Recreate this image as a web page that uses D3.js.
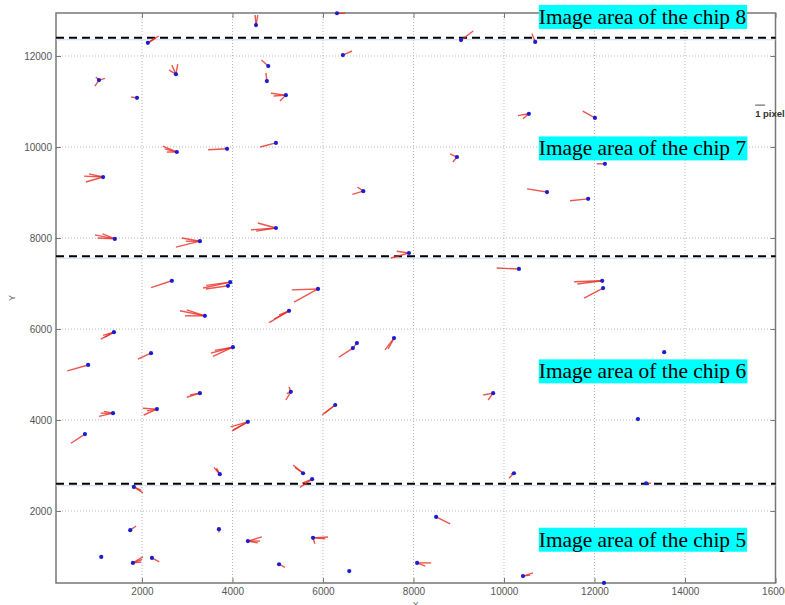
<!DOCTYPE html>
<html>
<head>
<meta charset="utf-8">
<script src="https://cdnjs.cloudflare.com/ajax/libs/d3/7.8.5/d3.min.js"></script>
<style>
  body { margin: 0; background: #fff; }
  svg { display: block; font-family: Arial, "Liberation Sans", sans-serif; }
  .tick text { fill: #555; font-size: 10px; }
</style>
</head>
<body>
<div id="chart"></div>
<script>

// Star positions (blue dots), data units
var ptX = [
  4520, 2130, 6310, 6440, 9050, 10690,                                  // chip 8
  1050, 1890, 2750, 4790, 4760, 5180, 4960, 3880, 2770, 1140, 4960,     // chip 7
  1400, 3280, 10550, 8960, 6890, 10950, 12010, 12230, 11860, 7900,
  10330, 12170, 12190, 2660, 3950, 3900, 5890, 3390, 5250, 1380, 2200,  // chip 6
  4010, 6750, 6660, 810, 3280, 1360, 2330, 5290, 4340, 740, 3720, 5560,
  5760, 7570, 6270, 9760, 10220, 13540, 12960, 13140,
  1820, 1740, 3700, 4340, 1100, 1800, 2220, 5030, 5780, 6580, 8500,     // chip 5
  8080, 10420, 12210
];
var ptY = [
  12680, 12290, 12940, 12020, 12350, 12310,
  11470, 11080, 11600, 11780, 11450, 11140, 10090, 9960, 9890, 9340, 8220,
  7980, 7930, 10730, 9780, 9030, 9010, 10640, 9630, 8860, 7670,
  7320, 7060, 6900, 7060, 7030, 6950, 6880, 6290, 6400, 5930, 5470,
  5600, 5690, 5580, 5210, 4590, 4150, 4240, 4620, 3960, 3690, 2810, 2830,
  2700, 5800, 4330, 4590, 2830, 5490, 4020, 2610,
  2530, 1580, 1600, 1340, 990, 860, 970, 830, 1410, 680, 1870,
  860, 570, 420
];
// Residual vectors (u, v) drawn from each star, several epochs per star
var ptArrows = [
  [[-20,220],[40,220]], [[240,150],[180,110]], [[180,0]], [[200,90]], [[270,200]], [[-70,180]],
  [[130,40],[-90,-130],[-70,70]], [[-130,20]], [[-90,200],[40,220],[-150,90]], [[-150,130]],
  [[-20,180]], [[-330,40],[-270,-20],[-130,-130]], [[-350,-90]], [[-420,-20]],
  [[-310,130],[-270,70],[-220,0]], [[-420,20],[-380,-110],[-310,70]],
  [[-550,-40],[-400,110],[-440,-70]],
  [[-440,90],[-380,20],[-270,110]], [[-530,-130],[-400,70],[-310,0]], [[-240,-40],[-130,-110]],
  [[-150,70],[-90,-110]], [[-240,-70],[-130,90]], [[-440,70]], [[-270,150]], [[-180,0]],
  [[-400,-40]], [[-400,-110],[-270,40]],
  [[-490,20]], [[-620,-20],[-550,-70]], [[-420,-220]], [[-460,-150]], [[-600,-130],[-530,-70]],
  [[-490,-70]], [[-580,-20],[-530,-290]], [[-550,110],[-440,0],[-400,130]],
  [[-440,-260],[-330,-180],[-220,-90]], [[-290,-150],[-240,-70],[-200,-110]], [[-290,-130]],
  [[-490,-130],[-440,-200],[-400,-70]], [[-90,-110]], [[-310,-200]], [[-460,-130]],
  [[-290,-90],[-220,-40]], [[-310,-70],[-270,0],[-200,40]], [[-310,20],[-290,-130],[-220,-40]],
  [[-110,-180],[-40,110],[-90,-40]], [[-330,-180],[-380,-110],[-350,-200]], [[-310,-200]],
  [[-130,150],[-90,110],[-70,130]], [[-220,180],[-180,130]],
  [[-270,-180],[-220,-90]], [[-200,-260],[-130,-240]], [[-290,-220],[-240,-180]],
  [[-220,-40],[-110,-150]], [[-110,-110],[-70,-20]], [], [[-40,0]], [[110,0]],
  [[200,-130],[160,-70]], [[130,90]], [[0,-70]], [[310,90],[270,0],[220,-40]], [],
  [[220,130],[200,70],[180,20]], [[160,-90]], [[130,-70]], [[330,20],[270,-20],[40,-130]], [],
  [[310,-150]],
  [[310,0],[180,-70]], [[220,70],[160,20]], []
];

// Chip boundaries and labels
var chipBounds = [12400, 7600, 2600];
var chipLabels = ["Image area of the chip 8", "Image area of the chip 7",
                  "Image area of the chip 6", "Image area of the chip 5"];
var chipLabelY = [12870, 9980, 5080, 1380];
var chipLabelX = 10770;

var xTicks = [2000, 4000, 6000, 8000, 10000, 12000, 14000, 16000];
var yTicks = [2000, 4000, 6000, 8000, 10000, 12000];

var width = 785, height = 605;
var mLeft = 56, mRight = 775.5, mTop = 13, mBottom = 583;

var xScale = d3.scaleLinear().domain([100, 16000]).range([mLeft, mRight]);
var yScale = d3.scaleLinear().domain([418, 12945]).range([mBottom, mTop]);

var svg = d3.select("#chart").append("svg")
    .attr("width", width)
    .attr("height", height);

// grid
svg.append("g").selectAll("line")
    .data(xTicks.filter(function(d) { return d < 16000; }))
  .enter().append("line")
    .attr("x1", function(d) { return xScale(d); })
    .attr("x2", function(d) { return xScale(d); })
    .attr("y1", mTop).attr("y2", mBottom)
    .attr("stroke", "#b8b8b8")
    .attr("stroke-dasharray", "1,2");

svg.append("g").selectAll("line")
    .data(yTicks)
  .enter().append("line")
    .attr("y1", function(d) { return yScale(d); })
    .attr("y2", function(d) { return yScale(d); })
    .attr("x1", mLeft).attr("x2", mRight)
    .attr("stroke", "#b8b8b8")
    .attr("stroke-dasharray", "1,2");

// axes, ticks pointing inwards like matlab
svg.append("g")
    .attr("transform", "translate(0," + mBottom + ")")
    .call(d3.axisBottom(xScale).tickValues(xTicks).tickSize(-5).tickSizeOuter(0)
      .tickPadding(5).tickFormat(d3.format("d")));
svg.append("g")
    .attr("transform", "translate(" + mLeft + ",0)")
    .call(d3.axisLeft(yScale).tickValues(yTicks).tickSize(-5).tickSizeOuter(0)
      .tickPadding(4).tickFormat(d3.format("d")));
svg.append("g")
    .attr("transform", "translate(0," + mTop + ")")
    .call(d3.axisTop(xScale).tickValues(xTicks).tickSize(-5).tickSizeOuter(0).tickFormat(""));
svg.append("g")
    .attr("transform", "translate(" + mRight + ",0)")
    .call(d3.axisRight(yScale).tickValues(yTicks).tickSize(-5).tickSizeOuter(0).tickFormat(""));

svg.selectAll(".domain").remove();
svg.selectAll(".tick line").attr("stroke", "#777");

svg.append("rect")
    .attr("x", mLeft).attr("y", mTop)
    .attr("width", mRight - mLeft).attr("height", mBottom - mTop)
    .attr("fill", "none")
    .attr("stroke", "#777")
    .attr("stroke-width", 1.5);

// axis titles
svg.append("text")
    .attr("transform", "translate(15," + (mTop + mBottom) / 2 + ") rotate(-90)")
    .style("text-anchor", "middle")
    .style("font-size", "9px")
    .attr("fill", "#666")
    .text("Y");
svg.append("text")
    .attr("x", (mLeft + mRight) / 2)
    .attr("y", 608)
    .style("text-anchor", "middle")
    .style("font-size", "9px")
    .attr("fill", "#666")
    .text("X");

// chip boundaries
svg.append("g").selectAll("line")
    .data(chipBounds)
  .enter().append("line")
    .attr("x1", mLeft).attr("x2", mRight)
    .attr("y1", function(d) { return yScale(d) + 2; })
    .attr("y2", function(d) { return yScale(d) + 2; })
    .attr("stroke", "#cddcf2")
    .attr("stroke-width", 1);
svg.append("g").selectAll("line")
    .data(chipBounds)
  .enter().append("line")
    .attr("x1", mLeft).attr("x2", mRight)
    .attr("y1", function(d) { return yScale(d); })
    .attr("y2", function(d) { return yScale(d); })
    .attr("stroke", "#000")
    .attr("stroke-width", 2)
    .attr("stroke-dasharray", "8,5");

// residual vectors
var segs = [];
ptX.forEach(function(x, i) {
  ptArrows[i].forEach(function(a) {
    segs.push({x: x, y: ptY[i], u: a[0], v: a[1]});
  });
});

svg.append("g").selectAll("line")
    .data(segs)
  .enter().append("line")
    .attr("x1", function(d) { return xScale(d.x); })
    .attr("y1", function(d) { return yScale(d.y); })
    .attr("x2", function(d) { return xScale(d.x + d.u); })
    .attr("y2", function(d) { return yScale(d.y + d.v); })
    .attr("stroke", "#e62a22")
    .attr("stroke-width", 1.4)
    .attr("stroke-opacity", 0.8);

svg.append("g").selectAll("circle")
    .data(ptX)
  .enter().append("circle")
    .attr("cx", function(d) { return xScale(d); })
    .attr("cy", function(d, i) { return yScale(ptY[i]); })
    .attr("r", 2.1)
    .attr("fill", "#1c1cd0");

// "1 pixel" reference
var refX = 15550, refY = 10920, refLen = 220;
svg.append("line")
    .attr("x1", xScale(refX)).attr("x2", xScale(refX + refLen))
    .attr("y1", yScale(refY)).attr("y2", yScale(refY))
    .attr("stroke", "#888")
    .attr("stroke-width", 1.5);
svg.append("text")
    .attr("x", xScale(refX))
    .attr("y", yScale(refY) + 12)
    .style("font-size", "9.5px")
    .style("font-weight", "bold")
    .attr("fill", "#333")
    .text("1 pixel");

// chip labels
var lab = svg.append("g").selectAll("g")
    .data(chipLabels)
  .enter().append("g");

lab.append("text")
    .attr("x", xScale(chipLabelX))
    .attr("y", function(d, i) { return yScale(chipLabelY[i]); })
    .attr("dy", "0.35em")
    .style("font-family", "'Liberation Serif', 'Times New Roman', serif")
    .style("font-size", "21.4px")
    .attr("fill", "#000")
    .text(function(d) { return d; });

lab.each(function() {
  var t = d3.select(this).select("text");
  var bb = t.node().getBBox();
  d3.select(this).insert("rect", "text")
      .attr("x", bb.x).attr("y", bb.y)
      .attr("width", bb.width + 1).attr("height", bb.height)
      .attr("fill", "#00ffff");
});

</script>
</body>
</html>
